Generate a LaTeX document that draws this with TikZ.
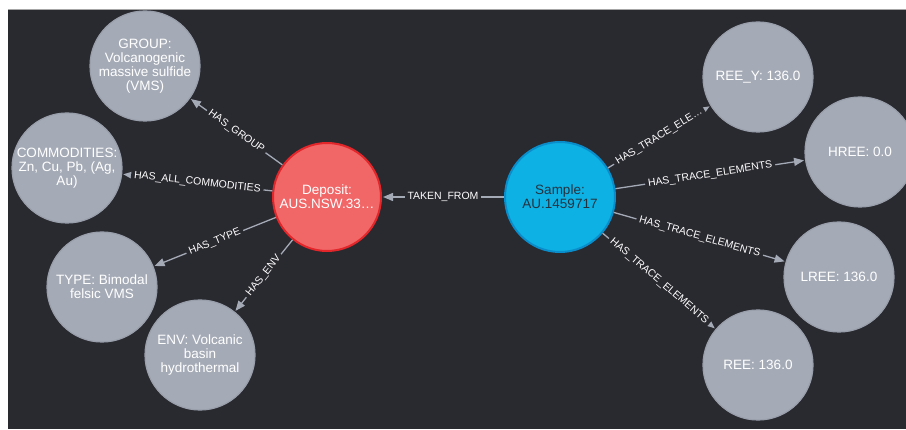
\documentclass[tikz,border=0pt]{standalone}
\usepackage{fontspec}
\setmainfont{Liberation Sans}
\usetikzlibrary{arrows.meta}
\definecolor{bgc}{HTML}{292930}
\definecolor{graynode}{HTML}{A5ABB6}
\definecolor{grayborder}{HTML}{9AA0AB}
\definecolor{depfill}{HTML}{F16667}
\definecolor{depborder}{HTML}{E3262A}
\definecolor{samfill}{HTML}{0DB1E3}
\definecolor{samborder}{HTML}{0A8ECB}
\definecolor{samtext}{HTML}{24323F}
\definecolor{edgec}{HTML}{A5ABB6}
\tikzset{
  ent/.style={circle, minimum size=110pt, inner sep=0pt, align=center,
    fill=graynode, draw=grayborder, line width=1.2pt, text=white,
    font=\fontsize{13.5}{14.2}\selectfont},
  depnode/.style={ent, minimum size=108pt, fill=depfill, draw=depborder, line width=2pt},
  samnode/.style={ent, fill=samfill, draw=samborder, line width=2pt, text=samtext},
  rel/.style={draw=edgec, line width=1.3pt, shorten >=1pt,
    -{Triangle[length=10pt,width=8pt]}},
  lbl/.style={fill=bgc, text=white, inner xsep=3pt, inner ysep=1pt,
    font=\fontsize{10.5}{12}\selectfont, sloped}
}
\begin{document}
\begin{tikzpicture}[x=1pt,y=1pt]
\useasboundingbox (0,0) rectangle (906,429);
\fill[white] (0,0) rectangle (906,429);
\fill[bgc] (8,0) rectangle (906,419);
\draw[gray!70, line width=0.6pt] (8,419.3) -- (906,419.3);
\begin{scope}
\clip (8,0) rectangle (906,419);
\node[ent] (group) at (145,363) {GROUP:\\Volcanogenic\\massive sulfide\\(VMS)};
\node[ent] (comm) at (67,261) {COMMODITIES:\\Zn, Cu, Pb, (Ag,\\Au)};
\node[ent] (type) at (102,142) {TYPE: Bimodal\\felsic VMS};
\node[ent] (env) at (200,74) {ENV: Volcanic\\basin\\hydrothermal};
\node[depnode] (dep) at (327,232) {Deposit:\\AUS.NSW.33…};
\node[samnode] (sam) at (560,232) {Sample:\\AU.1459717};
\node[ent] (reey) at (758,352) {REE\_Y: 136.0};
\node[ent] (hree) at (860,277) {HREE: 0.0};
\node[ent] (lree) at (839,152) {LREE: 136.0};
\node[ent] (ree) at (758,64) {REE: 136.0};

\draw[rel] (dep) -- node[lbl] {HAS\_GROUP} (group);
\draw[rel] (dep) -- node[lbl] {HAS\_ALL\_COMMODITIES} (comm);
\draw[rel] (dep) -- node[lbl] {HAS\_TYPE} (type);
\draw[rel] (dep) -- node[lbl] {HAS\_ENV} (env);
\draw[rel] (sam) -- node[lbl] {TAKEN\_FROM} (dep);
\draw[rel] (sam) -- node[lbl] {HAS\_TRACE\_ELE…} (reey);
\draw[rel] (sam) -- node[lbl] {HAS\_TRACE\_ELEMENTS} (hree);
\draw[rel] (sam) -- node[lbl] {HAS\_TRACE\_ELEMENTS} (lree);
\draw[rel] (sam) -- node[lbl] {HAS\_TRACE\_ELEMENTS} (ree);
\end{scope}
\end{tikzpicture}
\end{document}
